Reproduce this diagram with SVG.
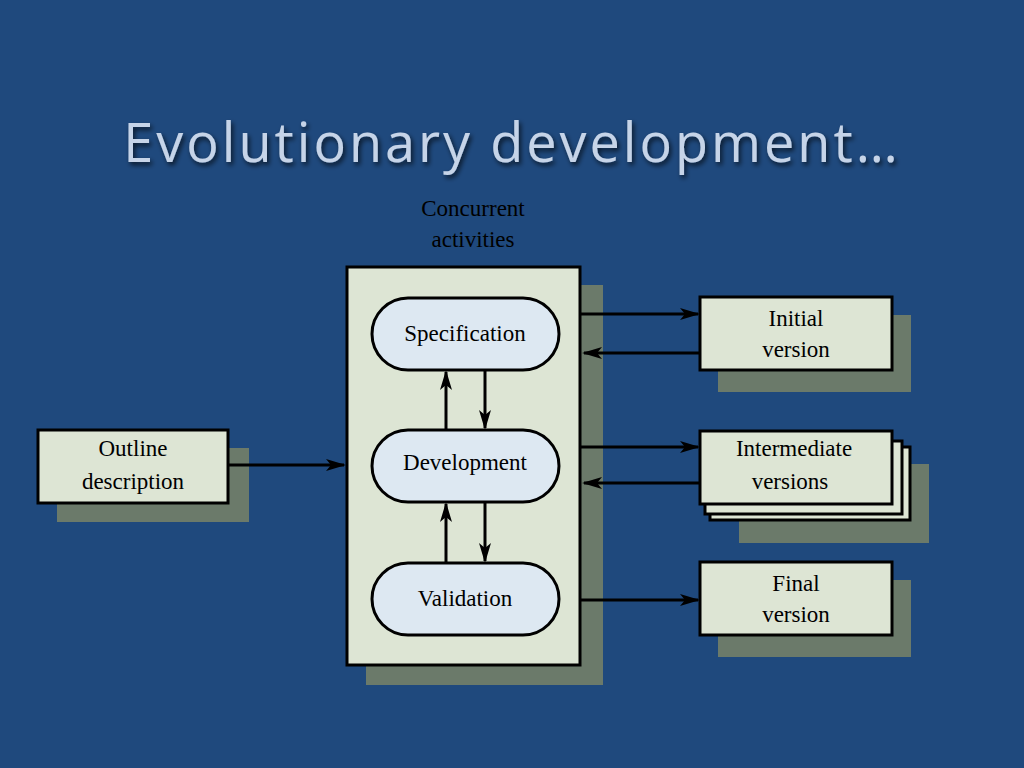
<svg xmlns="http://www.w3.org/2000/svg" width="1024" height="768" viewBox="0 0 1024 768">
<defs>
<style>
.sh{fill:#6b7a6a}
.box{fill:#dde5d4;stroke:#000;stroke-width:3}
.pill{fill:#dde8f2;stroke:#000;stroke-width:3}
.t{font-family:"Liberation Serif",serif;font-size:23px;fill:#000;text-anchor:middle}
.c{stroke:#000;stroke-width:3;fill:none;marker-end:url(#ah)}
</style>
<marker id="ah" viewBox="0 0 20 12" refX="18" refY="6" markerWidth="20" markerHeight="12" markerUnits="userSpaceOnUse" orient="auto"><path d="M0,0 L20,6 L0,12 L5,6 Z" fill="#000"/></marker>
<filter id="gl"><feGaussianBlur in="SourceAlpha" stdDeviation="2.5"/><feOffset dx="2" dy="3"/><feComponentTransfer><feFuncA type="linear" slope="0.7"/></feComponentTransfer><feMerge><feMergeNode/><feMergeNode in="SourceGraphic"/></feMerge></filter>
</defs>
<rect width="1024" height="768" fill="#1f497d"/>
<text x="512" y="162" font-family="Open Sans,DejaVu Sans,sans-serif" font-size="54" fill="#c6d4e8" text-anchor="middle" letter-spacing="3" filter="url(#gl)">Evolutionary development…</text>
<text class="t" x="473" y="216">Concurrent</text>
<text class="t" x="473" y="247">activities</text>
<g id="concurrent">
<rect class="sh" x="366" y="285" width="237" height="400"/>
<rect class="box" x="347" y="267" width="233" height="398" fill="#d3e0cd"/>
</g>
<g id="outline">
<rect class="sh" x="57" y="448" width="192" height="74"/>
<rect class="box" x="38" y="430" width="190" height="73"/>
<text class="t" x="133" y="456">Outline</text><text class="t" x="133" y="489">description</text>
</g>
<g id="spec"><rect class="pill" x="372" y="298" width="187" height="72" rx="36"/><text class="t" x="465" y="341">Specification</text></g>
<g id="dev"><rect class="pill" x="372" y="430" width="187" height="72" rx="36"/><text class="t" x="465" y="470">Development</text></g>
<g id="val"><rect class="pill" x="372" y="563" width="187" height="72" rx="36"/><text class="t" x="465" y="606">Validation</text></g>
<g id="initial">
<rect class="sh" x="718" y="315" width="193" height="77"/>
<rect class="box" x="700" y="297" width="192" height="73"/>
<text class="t" x="796" y="326">Initial</text><text class="t" x="796" y="357">version</text>
</g>
<g id="intermediate">
<rect class="sh" x="739" y="464" width="190" height="79"/>
<rect class="box" x="710" y="447" width="200" height="73"/>
<rect class="box" x="705" y="441" width="197" height="73"/>
<rect class="box" x="700" y="431" width="192" height="73"/>
<text class="t" x="794" y="456">Intermediate</text><text class="t" x="790" y="489">versions</text>
</g>
<g id="final">
<rect class="sh" x="718" y="580" width="193" height="77"/>
<rect class="box" x="700" y="562" width="192" height="73"/>
<text class="t" x="796" y="591">Final</text><text class="t" x="796" y="622">version</text>
</g>
<g id="connectors">
<path class="c" d="M228,465 H344"/>
<path class="c" d="M446,430 V372"/>
<path class="c" d="M485,370 V428"/>
<path class="c" d="M446,563 V504"/>
<path class="c" d="M485,502 V561"/>
<path class="c" d="M580,314 H698"/>
<path class="c" d="M700,353 H584"/>
<path class="c" d="M580,447 H698"/>
<path class="c" d="M700,483 H584"/>
<path class="c" d="M580,600 H698"/>
</g>
</svg>
